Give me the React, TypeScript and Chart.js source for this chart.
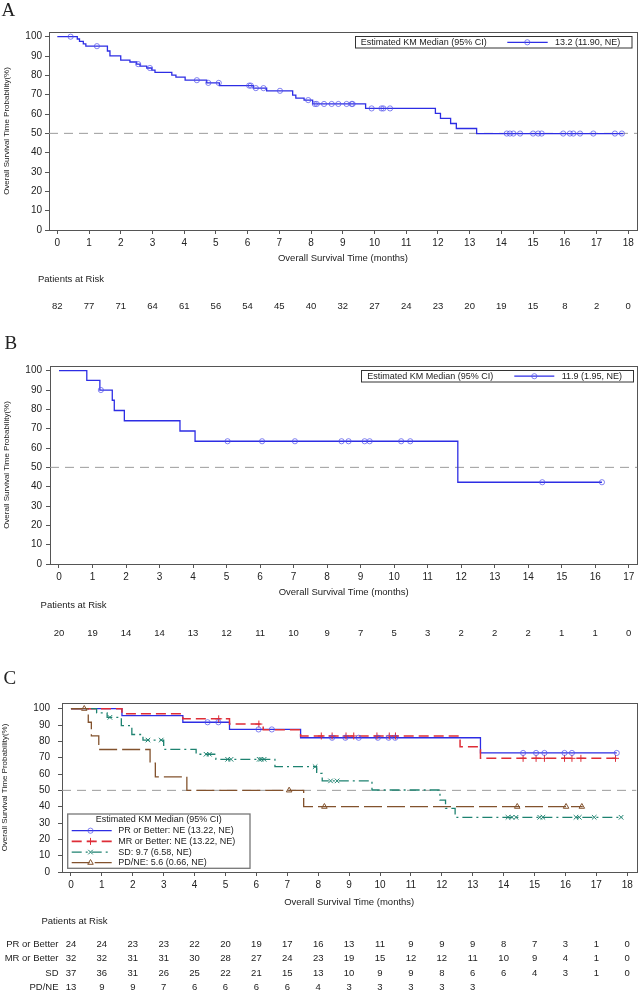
import React, { useEffect, useRef } from "react";
import { Chart, registerables } from "chart.js";

Chart.register(...registerables);

const FONT = "'Liberation Sans', Arial, Helvetica, sans-serif";
const SERIF = "'Liberation Serif', 'Times New Roman', Times, serif";
const TEXT = "#222222";
const AXIS = "#555555";
const BLUE = "rgb(45, 45, 228)";
const BLUE_MARK = "rgba(80, 80, 235, 0.7)";
const RED = "rgb(222, 45, 55)";
const TEAL = "rgb(30, 130, 112)";
const BROWN = "rgb(130, 82, 45)";
const REF = "#9b9b9b";

// ---------------- ticks ----------------
const monthTicks18 = [0, 1, 2, 3, 4, 5, 6, 7, 8, 9, 10, 11, 12, 13, 14, 15, 16, 17, 18];
const monthTicks17 = [0, 1, 2, 3, 4, 5, 6, 7, 8, 9, 10, 11, 12, 13, 14, 15, 16, 17];
const survivalTicks = [0, 10, 20, 30, 40, 50, 60, 70, 80, 90, 100];
const medianReference = 50;

// ---------------- panel A ----------------
const aTimes = [0, 0.63, 0.7, 0.82, 0.9, 1.58, 1.66, 2.0, 2.29, 2.5, 2.61, 2.82, 2.98, 3.08, 3.61, 3.74, 4.03, 4.71, 5.11, 6.18, 6.6, 7.42, 7.52, 7.78, 8.05, 9.72, 11.92, 12.08, 12.4, 12.58, 13.22, 17.84];
const aSurvival = [100, 98.8, 97.6, 96.3, 95.1, 92.6, 90.1, 87.9, 86.9, 85.8, 84.8, 83.8, 82.7, 81.5, 80.1, 79.1, 77.5, 76.1, 74.7, 73.4, 72.0, 69.8, 68.2, 67.2, 65.2, 62.9, 60.3, 57.7, 55.1, 52.5, 49.9, 49.9];
const aCensored = [0.42, 1.25, 2.55, 2.92, 4.4, 4.76, 5.09, 6.05, 6.1, 6.26, 6.5, 7.02, 7.91, 8.12, 8.18, 8.41, 8.65, 8.86, 9.12, 9.28, 9.31, 9.91, 10.22, 10.28, 10.49, 14.17, 14.27, 14.38, 14.59, 15.0, 15.16, 15.27, 15.95, 16.16, 16.27, 16.48, 16.9, 17.58, 17.8];
const aAtRisk = [82, 77, 71, 64, 61, 56, 54, 45, 40, 32, 27, 24, 23, 20, 19, 15, 8, 2, 0];
const aMedianText = "13.2 (11.90, NE)";

// ---------------- panel B ----------------
const bTimes = [0, 0.83, 1.22, 1.59, 1.65, 1.95, 3.61, 4.06, 11.9, 16.2];
const bSurvival = [100, 95, 90, 84.7, 79.4, 74.1, 68.8, 63.5, 42.3, 42.3];
const bCensored = [1.25, 5.03, 6.06, 7.04, 8.43, 8.64, 9.12, 9.27, 10.21, 10.48, 14.42, 16.2];
const bAtRisk = [20, 19, 14, 14, 13, 12, 11, 10, 9, 7, 5, 3, 2, 2, 2, 1, 1, 0];
const bMedianText = "11.9 (1.95, NE)";

// ---------------- panel C ----------------
const cGroups = ["PR or Better", "MR or Better", "SD", "PD/NE"];
const cLegendText = ["PR or Better: NE (13.22, NE)", "MR or Better: NE (13.22, NE)", "SD: 9.7 (6.58, NE)", "PD/NE: 5.6 (0.66, NE)"];
const legendTitle = "Estimated KM Median (95% CI)";

const prTimes = [0, 1.65, 3.62, 5.13, 7.43, 13.25, 17.66];
const prSurvival = [100, 95.8, 91.7, 87.3, 82.2, 72.9, 72.9];
const prCensored = [4.42, 4.77, 6.07, 6.5, 8.45, 8.88, 9.31, 9.93, 10.28, 10.49, 14.63, 15.05, 15.32, 15.97, 16.21, 17.66];

const mrTimes = [0, 1.65, 3.62, 5.13, 6.22, 7.43, 12.59, 13.25, 17.66];
const mrSurvival = [100, 96.9, 93.8, 90.6, 87.1, 83.3, 76.7, 69.6, 69.6];
const mrCensored = [4.78, 6.08, 8.1, 8.45, 8.9, 9.15, 9.9, 10.3, 10.5, 14.63, 15.05, 15.32, 15.97, 16.21, 16.5, 17.62];

const sdTimes = [0, 0.83, 1.17, 1.63, 1.97, 2.33, 3.0, 4.05, 4.69, 6.6, 7.95, 8.13, 9.74, 11.94, 12.12, 12.43, 17.85];
const sdSurvival = [100, 97.4, 94.7, 89.6, 84.2, 80.8, 75.1, 72.1, 69.0, 64.5, 60.4, 55.8, 50.2, 44.0, 39.0, 33.5, 33.5];
const sdCensored = [1.26, 2.49, 2.92, 4.37, 4.48, 5.07, 5.18, 6.09, 6.15, 6.25, 7.9, 8.4, 8.61, 14.14, 14.27, 14.4, 15.17, 15.27, 16.34, 16.45, 16.93, 17.8];

const pdTimes = [0, 0.56, 0.66, 0.9, 2.56, 2.73, 3.75, 7.53, 16.56];
const pdSurvival = [100, 91.7, 83.3, 75.0, 66.7, 58.3, 50.0, 40.0, 40.0];
const pdCensored = [0.43, 7.06, 8.2, 14.44, 16.02, 16.53];

const prAtRisk = [24, 24, 23, 23, 22, 20, 19, 17, 16, 13, 11, 9, 9, 9, 8, 7, 3, 1, 0];
const mrAtRisk = [32, 32, 31, 31, 30, 28, 27, 24, 23, 19, 15, 12, 12, 11, 10, 9, 4, 1, 0];
const sdAtRisk = [37, 36, 31, 26, 25, 22, 21, 15, 13, 10, 9, 9, 8, 6, 6, 4, 3, 1, 0];
const pdAtRisk = [13, 9, 9, 7, 6, 6, 6, 6, 4, 3, 3, 3, 3, 3];

// ---------------- helpers ----------------
function survAt(times: number[], surv: number[], t: number) {
  let v = surv[0];
  for (let i = 0; i < times.length; i++) if (times[i] <= t + 1e-9) v = surv[i];
  return v;
}

function stepDs(times: number[], surv: number[], color: string, dash: number[], width: number, order: number) {
  return {
    data: times.map((t, i) => ({ x: t, y: surv[i] })),
    borderColor: color,
    backgroundColor: color,
    borderWidth: width,
    borderDash: dash,
    stepped: true,
    pointRadius: 0,
    pointHoverRadius: 0,
    fill: false,
    order,
  };
}

function censorDs(cens: number[], times: number[], surv: number[], color: string, style: string, radius: number, order: number) {
  return {
    data: cens.map((t) => ({ x: t, y: survAt(times, surv, t) })),
    showLine: false,
    pointStyle: style,
    pointRadius: radius,
    pointHoverRadius: radius,
    pointBorderColor: color,
    pointBackgroundColor: "rgba(0,0,0,0)",
    pointBorderWidth: 1,
    borderColor: color,
    backgroundColor: "rgba(0,0,0,0)",
    order,
  };
}

function refDs(xMin: number, xMax: number) {
  return {
    data: [
      { x: xMin, y: medianReference },
      { x: xMax, y: medianReference },
    ],
    borderColor: REF,
    borderWidth: 1,
    borderDash: [9, 6],
    pointRadius: 0,
    pointHoverRadius: 0,
    fill: false,
    order: 30,
  };
}

function drawMarker(ctx: CanvasRenderingContext2D, style: string, x: number, y: number, r: number, color: string) {
  ctx.save();
  ctx.setLineDash([]);
  ctx.strokeStyle = color;
  ctx.lineWidth = 1;
  ctx.beginPath();
  if (style === "circle") {
    ctx.arc(x, y, r, 0, Math.PI * 2);
  } else if (style === "cross") {
    ctx.moveTo(x - r, y);
    ctx.lineTo(x + r, y);
    ctx.moveTo(x, y - r);
    ctx.lineTo(x, y + r);
  } else if (style === "crossRot") {
    const d = r * 0.7071;
    ctx.moveTo(x - d, y - d);
    ctx.lineTo(x + d, y + d);
    ctx.moveTo(x - d, y + d);
    ctx.lineTo(x + d, y - d);
  } else if (style === "triangle") {
    ctx.moveTo(x, y - r);
    ctx.lineTo(x + r * 0.866, y + r * 0.5);
    ctx.lineTo(x - r * 0.866, y + r * 0.5);
    ctx.closePath();
  }
  ctx.stroke();
  ctx.restore();
}

function sampleLine(ctx: CanvasRenderingContext2D, x1: number, x2: number, y: number, color: string, dash: number[], width: number) {
  ctx.save();
  ctx.strokeStyle = color;
  ctx.lineWidth = width;
  ctx.setLineDash(dash);
  ctx.beginPath();
  ctx.moveTo(x1, y);
  ctx.lineTo(x2, y);
  ctx.stroke();
  ctx.restore();
}

function text(
  ctx: CanvasRenderingContext2D,
  s: string,
  x: number,
  y: number,
  align: CanvasTextAlign,
  size: number,
  family = FONT,
  baseline: CanvasTextBaseline = "middle"
) {
  ctx.save();
  ctx.font = `${size}px ${family}`;
  ctx.fillStyle = TEXT;
  ctx.textAlign = align;
  ctx.textBaseline = baseline;
  ctx.fillText(s, x, y);
  ctx.restore();
}

function box(ctx: CanvasRenderingContext2D, x: number, y: number, w: number, h: number, color: string, lw: number) {
  ctx.save();
  ctx.fillStyle = "#ffffff";
  ctx.fillRect(x, y, w, h);
  ctx.strokeStyle = color;
  ctx.lineWidth = lw;
  ctx.strokeRect(x, y, w, h);
  ctx.restore();
}

type Panel = {
  height: number;
  frame: { l: number; t: number; r: number; b: number };
  xMin: number;
  xMax: number;
  yMax: number;
  xTicks: number[];
  xTickPad: number;
  yTickPad: number;
  yTitlePad: number;
  xAxisH: number;
  letter: { s: string; x: number; y: number };
  datasets: any[];
  legend: (ctx: CanvasRenderingContext2D) => void;
  risk: { titleX: number; titleY: number; labelRight: number; rows: { label: string; values: number[]; y: number }[] };
};

function makeChart(canvas: HTMLCanvasElement, p: Panel) {
  const W = 641;
  const decor = {
    id: "decor",
    beforeDatasetsDraw(chart: any) {
      const { ctx, chartArea: a } = chart;
      ctx.save();
      ctx.strokeStyle = AXIS;
      ctx.lineWidth = 1;
      const l = Math.round(a.left) + 0.5;
      const t = Math.round(a.top) + 0.5;
      ctx.strokeRect(l, t, Math.round(a.right) - Math.round(a.left), Math.round(a.bottom) - Math.round(a.top));
      ctx.restore();
    },
    afterDraw(chart: any) {
      const ctx: CanvasRenderingContext2D = chart.ctx;
      const xs = chart.scales.x;
      p.legend(ctx);
      text(ctx, p.letter.s, p.letter.x, p.letter.y, "left", 19, SERIF, "alphabetic");
      text(ctx, "Patients at Risk", p.risk.titleX, p.risk.titleY, "left", 9.5);
      p.risk.rows.forEach((row) => {
        if (row.label) text(ctx, row.label, p.risk.labelRight, row.y, "right", 9.5);
        row.values.forEach((v, i) => {
          text(ctx, String(v), xs.getPixelForValue(p.xTicks[i]), row.y, "center", 9.5);
        });
      });
    },
  };

  return new Chart(canvas, {
    type: "line",
    data: { datasets: p.datasets },
    options: {
      animation: false,
      responsive: false,
      maintainAspectRatio: false,
      devicePixelRatio: 1,
      events: [],
      layout: {
        padding: {
          top: p.frame.t,
          left: 0,
          right: W - p.frame.r,
          bottom: p.height - p.frame.b - p.xAxisH,
        },
      },
      plugins: {
        legend: { display: false },
        tooltip: { enabled: false },
        title: { display: false },
      },
      scales: {
        x: {
          type: "linear",
          min: p.xMin,
          max: p.xMax,
          afterBuildTicks: (s: any) => {
            s.ticks = p.xTicks.map((v) => ({ value: v }));
          },
          afterFit: (s: any) => {
            s.height = p.xAxisH;
          },
          grid: { display: true, drawOnChartArea: false, drawTicks: true, tickLength: 4, color: AXIS, lineWidth: 1 },
          border: { display: false },
          ticks: {
            color: TEXT,
            font: { family: FONT, size: 10 },
            padding: p.xTickPad,
            maxRotation: 0,
            autoSkip: false,
            callback: (v: any) => String(v),
          },
          title: {
            display: true,
            text: "Overall Survival Time (months)",
            color: TEXT,
            font: { family: FONT, size: 9.5 },
            padding: 0,
          },
        },
        y: {
          type: "linear",
          min: 0,
          max: p.yMax,
          afterBuildTicks: (s: any) => {
            s.ticks = survivalTicks.map((v) => ({ value: v }));
          },
          afterFit: (s: any) => {
            s.width = p.frame.l;
          },
          grid: { display: true, drawOnChartArea: false, drawTicks: true, tickLength: 4, color: AXIS, lineWidth: 1 },
          border: { display: false },
          ticks: {
            color: TEXT,
            font: { family: FONT, size: 10 },
            padding: p.yTickPad,
            autoSkip: false,
            callback: (v: any) => String(v),
          },
          title: {
            display: true,
            text: "Overall Survival Time Probability(%)",
            color: TEXT,
            font: { family: FONT, size: 8 },
            padding: { top: p.yTitlePad, bottom: 0 },
          },
        },
      },
    } as any,
    plugins: [decor as any],
  });
}

export default function App() {
  const refA = useRef<HTMLCanvasElement>(null);
  const refB = useRef<HTMLCanvasElement>(null);
  const refC = useRef<HTMLCanvasElement>(null);

  useEffect(() => {
    const aX = [-0.2617, 18.276];
    const panelA: Panel = {
      height: 325,
      frame: { l: 49, t: 32, r: 637, b: 230 },
      xMin: aX[0],
      xMax: aX[1],
      yMax: 102.43,
      xTicks: monthTicks18,
      xTickPad: 3,
      yTickPad: 3,
      yTitlePad: 1.5,
      xAxisH: 33.7,
      letter: { s: "A", x: 1.5, y: 15.5 },
      datasets: [
        censorDs(aCensored, aTimes, aSurvival, BLUE_MARK, "circle", 2.6, 1),
        stepDs(aTimes, aSurvival, BLUE, [], 1.3, 5),
        refDs(aX[0], aX[1]),
      ],
      legend: (ctx) => {
        const y = 42.3;
        box(ctx, 355.5, 36.5, 276.5, 11.5, "#333", 1);
        text(ctx, legendTitle, 360.7, y, "left", 9);
        sampleLine(ctx, 507.3, 547.7, y, BLUE, [], 1.2);
        drawMarker(ctx, "circle", 527.3, y, 2.6, BLUE_MARK);
        text(ctx, aMedianText, 555, y, "left", 9);
      },
      risk: { titleX: 38, titleY: 279, labelRight: 0, rows: [{ label: "", values: aAtRisk, y: 306.5 }] },
    };

    const bX = [-0.268, 17.258];
    const panelB: Panel = {
      height: 325,
      frame: { l: 50, t: 41, r: 638, b: 239 },
      xMin: bX[0],
      xMax: bX[1],
      yMax: 102.43,
      xTicks: monthTicks17,
      xTickPad: 3,
      yTickPad: 4,
      yTitlePad: 1.5,
      xAxisH: 34.2,
      letter: { s: "B", x: 4.5, y: 24 },
      datasets: [
        censorDs(bCensored, bTimes, bSurvival, BLUE_MARK, "circle", 2.6, 1),
        stepDs(bTimes, bSurvival, BLUE, [], 1.3, 5),
        refDs(bX[0], bX[1]),
      ],
      legend: (ctx) => {
        const y = 51.2;
        box(ctx, 361.5, 45.5, 272, 11.5, "#333", 1);
        text(ctx, legendTitle, 367.3, y, "left", 9);
        sampleLine(ctx, 514.3, 554.3, y, BLUE, [], 1.2);
        drawMarker(ctx, "circle", 534.3, y, 2.6, BLUE_MARK);
        text(ctx, bMedianText, 561.7, y, "left", 9);
      },
      risk: { titleX: 40.6, titleY: 280, labelRight: 0, rows: [{ label: "", values: bAtRisk, y: 308.3 }] },
    };

    const cX = [-0.29, 18.299];
    const dashMR = [10, 5];
    const dashSD = [10, 4, 2, 4];
    const dashPD = [18, 5];
    const panelC: Panel = {
      height: 341,
      frame: { l: 62, t: 53, r: 639, b: 222 },
      xMin: cX[0],
      xMax: cX[1],
      yMax: 103.49,
      xTicks: monthTicks18,
      xTickPad: 3.7,
      yTickPad: 8,
      yTitlePad: 0,
      xAxisH: 35.7,
      letter: { s: "C", x: 3.5, y: 33.5 },
      datasets: [
        censorDs(prCensored, prTimes, prSurvival, BLUE_MARK, "circle", 2.6, 1),
        censorDs(mrCensored, mrTimes, mrSurvival, RED, "cross", 3.5, 1),
        censorDs(sdCensored, sdTimes, sdSurvival, TEAL, "crossRot", 3.2, 1),
        censorDs(pdCensored, pdTimes, pdSurvival, BROWN, "triangle", 3.2, 1),
        stepDs(pdTimes, pdSurvival, BROWN, dashPD, 1.3, 4),
        stepDs(sdTimes, sdSurvival, TEAL, dashSD, 1.3, 5),
        stepDs(mrTimes, mrSurvival, RED, dashMR, 1.5, 6),
        stepDs(prTimes, prSurvival, BLUE, [], 1.3, 7),
        refDs(cX[0], cX[1]),
      ],
      legend: (ctx) => {
        box(ctx, 67.7, 164, 182.3, 54.3, "#777", 1.3);
        text(ctx, legendTitle, 158.8, 170, "center", 9);
        const ys = [180.7, 191.4, 202.1, 212.7];
        const colors = [BLUE, RED, TEAL, BROWN];
        const marks = [BLUE_MARK, RED, TEAL, BROWN];
        const styles = ["circle", "cross", "crossRot", "triangle"];
        const dashes = [[], dashMR, dashSD, dashPD];
        const radii = [2.6, 3.5, 3.2, 3.2];
        cLegendText.forEach((s, i) => {
          sampleLine(ctx, 71.7, 111.7, ys[i], colors[i], dashes[i], i === 1 ? 1.6 : 1.3);
          drawMarker(ctx, styles[i], 90.5, ys[i], radii[i], marks[i]);
          text(ctx, s, 118.3, ys[i], "left", 9);
        });
      },
      risk: {
        titleX: 41.5,
        titleY: 271.7,
        labelRight: 58.5,
        rows: [
          { label: cGroups[0], values: prAtRisk, y: 294 },
          { label: cGroups[1], values: mrAtRisk, y: 308.3 },
          { label: cGroups[2], values: sdAtRisk, y: 323 },
          { label: cGroups[3], values: pdAtRisk, y: 337 },
        ],
      },
    };

    const charts = [
      makeChart(refA.current!, panelA),
      makeChart(refB.current!, panelB),
      makeChart(refC.current!, panelC),
    ];
    return () => charts.forEach((c) => c.destroy());
  }, []);

  const cs = (top: number, h: number): React.CSSProperties => ({
    position: "absolute",
    left: 0,
    top,
    width: 641,
    height: h,
    display: "block",
  });

  return (
    <div style={{ position: "absolute", left: 0, top: 0, width: 641, height: 991, background: "#ffffff", overflow: "hidden" }}>
      <canvas ref={refA} width={641} height={325} style={cs(0, 325)} />
      <canvas ref={refB} width={641} height={325} style={cs(325, 325)} />
      <canvas ref={refC} width={641} height={341} style={cs(650, 341)} />
    </div>
  );
}
